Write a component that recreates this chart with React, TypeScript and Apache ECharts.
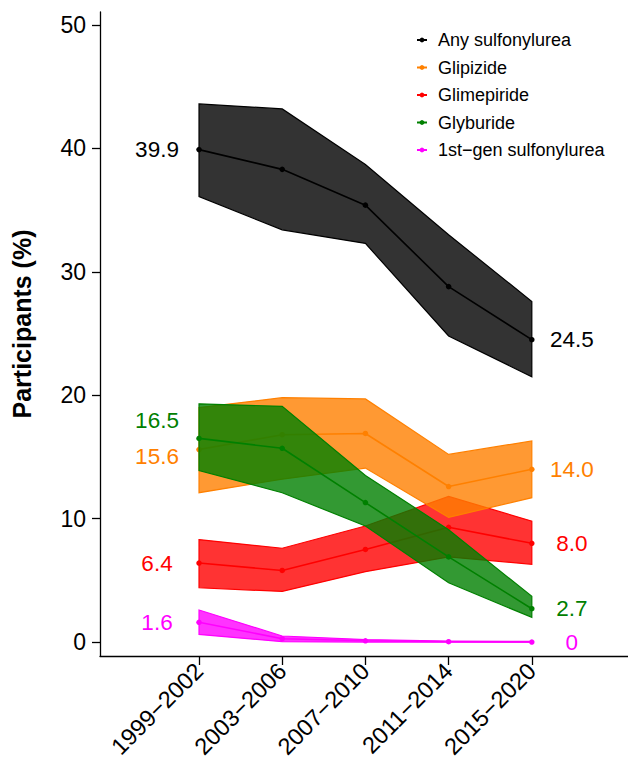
import React, { useEffect, useRef } from "react";
import * as echarts from "echarts";

const periods = ["1999−2002", "2003−2006", "2007−2010", "2011−2014", "2015−2020"];
const yTicks = [0, 10, 20, 30, 40, 50];
const xTicks = [0, 1, 2, 3, 4];

const anyEst = [39.9, 38.3, 35.4, 28.8, 24.5];
const anyLo = [36.1, 33.4, 32.3, 24.8, 21.5];
const anyHi = [43.6, 43.2, 38.7, 33.0, 27.6];

const glipEst = [15.6, 16.8, 16.9, 12.6, 14.0];
const glipLo = [12.1, 13.2, 14.1, 10.1, 11.7];
const glipHi = [19.0, 19.8, 19.7, 15.2, 16.3];

const glimEst = [6.4, 5.8, 7.5, 9.3, 8.0];
const glimLo = [4.4, 4.1, 5.7, 6.9, 6.3];
const glimHi = [8.3, 7.6, 9.4, 11.8, 9.8];

const glybEst = [16.5, 15.7, 11.3, 6.9, 2.7];
const glybLo = [13.9, 12.1, 9.4, 4.8, 2.0];
const glybHi = [19.3, 19.1, 13.5, 9.1, 3.7];

const firstEst = [1.6, 0.27, 0.1, 0.03, 0];
const firstLo = [0.62, 0.03, 0.0, 0.0, 0.0];
const firstHi = [2.6, 0.49, 0.2, 0.08, 0.05];

const FONT = "'Liberation Sans', Arial, Helvetica, sans-serif";

type Grp = {
  name: string;
  color: string;
  fill: string;
  est: number[];
  lo: number[];
  hi: number[];
  leftDy: number;
};

const groups: Grp[] = [
  { name: "Any sulfonylurea", color: "#000000", fill: "rgba(0,0,0,0.8)", est: anyEst, lo: anyLo, hi: anyHi, leftDy: 0 },
  { name: "Glimepiride", color: "#FF0000", fill: "rgba(255,0,0,0.8)", est: glimEst, lo: glimLo, hi: glimHi, leftDy: 0 },
  { name: "Glipizide", color: "#FF8000", fill: "rgba(255,128,0,0.8)", est: glipEst, lo: glipLo, hi: glipHi, leftDy: 7 },
  { name: "Glyburide", color: "#008000", fill: "rgba(0,128,0,0.8)", est: glybEst, lo: glybLo, hi: glybHi, leftDy: -18 },
  { name: "1st−gen sulfonylurea", color: "#FF00FF", fill: "rgba(255,0,255,0.8)", est: firstEst, lo: firstLo, hi: firstHi, leftDy: 0 },
];

const legendOrder = ["Any sulfonylurea", "Glipizide", "Glimepiride", "Glyburide", "1st−gen sulfonylurea"];

const fmt = (v: number) => (v === 0 ? "0" : v.toFixed(1));

export default function App() {
  const ref = useRef<HTMLDivElement>(null);
  useEffect(() => {
    if (!ref.current) return;
    const chart = echarts.init(ref.current, null, { renderer: "svg" });
    const series: any[] = [];
    groups.forEach((g, gi) => {
      series.push({
        type: "custom",
        name: g.name + " band",
        z: gi * 2 + 1,
        silent: true,
        data: g.est.map((_, i) => [i, g.lo[i], g.hi[i]]),
        encode: { x: 0, y: [1, 2] },
        renderItem: (params: any, api: any) => {
          if (params.dataIndex !== 0) return null;
          const pts: number[][] = [];
          for (let i = 0; i < g.hi.length; i++) pts.push(api.coord([i, g.hi[i]]));
          for (let i = g.lo.length - 1; i >= 0; i--) pts.push(api.coord([i, g.lo[i]]));
          return {
            type: "polygon",
            shape: { points: pts },
            style: { fill: g.fill, stroke: g.color, lineWidth: 1.2 },
          };
        },
      });
      const last = g.est.length - 1;
      series.push({
        type: "line",
        name: g.name,
        z: gi * 2 + 2,
        color: g.color,
        symbol: "circle",
        symbolSize: 5.5,
        lineStyle: { color: g.color, width: 1.6 },
        itemStyle: { color: g.color },
        data: g.est.map((v, i) => {
          const item: any = { value: [i, v] };
          if (i === 0 || i === last) {
            item.label = {
              show: true,
              position: "inside",
              align: "center",
              verticalAlign: "middle",
              offset: i === 0 ? [-42, g.leftDy] : [40, 0],
              formatter: fmt(v),
              color: g.color,
              fontSize: 22.5,
              fontFamily: FONT,
            };
          }
          return item;
        }),
      });
    });

    chart.setOption({
      animation: false,
      grid: { left: 100, top: 12, right: 0, bottom: 108, containLabel: false, outerBoundsMode: "none" },
      xAxis: {
        type: "value",
        min: -1.19,
        max: 5.156,
        splitLine: { show: false },
        axisLine: { show: true, onZero: false, lineStyle: { color: "#000", width: 1.3 } },
        axisTick: { show: true, customValues: xTicks, length: 9, lineStyle: { color: "#000", width: 1.3 } },
        axisLabel: {
          customValues: xTicks,
          rotate: 45,
          margin: 11,
          formatter: (v: number) => periods[Math.round(v)] ?? "",
          color: "#000",
          fontSize: 23.5,
          fontFamily: FONT,
        },
      },
      yAxis: {
        type: "value",
        min: -1.13,
        max: 51.05,
        splitLine: { show: false },
        axisLine: { show: true, onZero: false, lineStyle: { color: "#000", width: 1.3 } },
        axisTick: { show: true, customValues: yTicks, length: 8, lineStyle: { color: "#000", width: 1.3 } },
        axisLabel: {
          customValues: yTicks,
          margin: 14,
          color: "#000",
          fontSize: 23,
          fontFamily: FONT,
        },
      },
      legend: {
        data: legendOrder,
        orient: "vertical",
        left: 411,
        top: 26,
        itemWidth: 10,
        itemHeight: 6,
        itemGap: 9.5,
        textStyle: { fontSize: 18, color: "#000", fontFamily: FONT, padding: [0, 0, 0, 6] },
        selectedMode: false,
      },
      graphic: [
        {
          type: "text",
          x: 22,
          y: 324,
          rotation: Math.PI / 2,
          style: {
            text: "Participants (%)",
            fontSize: 25,
            fontWeight: "bold",
            fontFamily: FONT,
            fill: "#000",
            align: "center",
            verticalAlign: "middle",
          },
        },
      ],
      series,
    });
    return () => chart.dispose();
  }, []);
  return (
    <div
      ref={ref}
      style={{ position: "absolute", left: 0, top: 0, width: 628, height: 764, background: "#fff" }}
    />
  );
}
